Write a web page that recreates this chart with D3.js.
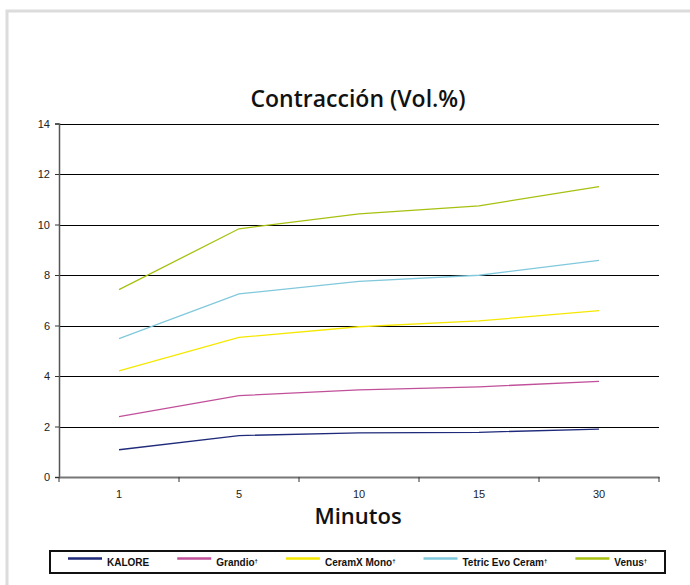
<!DOCTYPE html>
<html>
<head>
<meta charset="utf-8">
<script src="https://cdn.jsdelivr.net/npm/d3@7"></script>
<style>
  body { margin: 0; background: #fff; }
</style>
</head>
<body>
<div id="chart"></div>
<script>
// Chart data
const minutos = ["1", "5", "10", "15", "30"];
const seriesNames = ["KALORE", "Grandio", "CeramX Mono", "Tetric Evo Ceram", "Venus"];
const seriesMarks = ["", "†", "†", "†", "†"];
const seriesColors = ["#1f2a7a", "#c0509a", "#f5e800", "#80c8dc", "#a8c010"];
const kalore = [1.08, 1.64, 1.75, 1.77, 1.9];
const grandio = [2.39, 3.22, 3.45, 3.57, 3.79];
const ceramx = [4.2, 5.53, 5.95, 6.18, 6.59];
const tetric = [5.48, 7.25, 7.75, 7.99, 8.58];
const venus = [7.42, 9.83, 10.42, 10.74, 11.5];
const yTicks = [0, 2, 4, 6, 8, 10, 12, 14];

const seriesValues = [kalore, grandio, ceramx, tetric, venus];

const width = 690, height = 585;
const margin = {top: 123.5, right: 31, bottom: 108, left: 59};

const svg = d3.select("#chart")
  .append("svg")
  .attr("width", width)
  .attr("height", height);

// outer frame
svg.append("path")
  .attr("d", `M7,${height} V11 H${width}`)
  .attr("fill", "none")
  .attr("stroke", "#dcdcdc")
  .attr("stroke-width", 3);

const x = d3.scaleBand()
  .domain(minutos)
  .range([margin.left, width - margin.right]);
const y = d3.scaleLinear()
  .domain([0, 14])
  .range([height - margin.bottom, margin.top]);

// Gridlines
svg.append("g")
  .selectAll("line")
  .data(yTicks.filter(d => d > 0))
  .enter()
  .append("line")
  .attr("x1", margin.left)
  .attr("x2", width - margin.right)
  .attr("y1", d => Math.round(y(d)) + 0.5)
  .attr("y2", d => Math.round(y(d)) + 0.5)
  .attr("stroke", "#000")
  .attr("stroke-width", 1);

// Y axis
const yAxis = svg.append("g")
  .attr("transform", `translate(${margin.left},0)`)
  .call(d3.axisLeft(y).tickValues(yTicks).tickSize(4).tickPadding(5).tickFormat(d3.format("d")));
yAxis.select(".domain").attr("stroke", "#555").attr("stroke-width", 1.5);
yAxis.selectAll(".tick line").attr("stroke", "#333");
yAxis.selectAll("text")
  .attr("font-family", "Liberation Sans, Arial, sans-serif")
  .attr("font-size", "11px")
  .attr("fill", "#222");

// X axis
const xAxis = svg.append("g")
  .attr("transform", `translate(0,${y(0)})`)
  .call(d3.axisBottom(x).tickSize(0).tickPadding(13));
xAxis.select(".domain").attr("stroke", "#777").attr("stroke-width", 2);
xAxis.selectAll("text")
  .attr("font-family", "Liberation Sans, Arial, sans-serif")
  .attr("font-size", "11px")
  .attr("fill", "#222");
// tick marks at category boundaries
xAxis.selectAll(".bound")
  .data(minutos.map(d => x(d)).concat([x(minutos[minutos.length - 1]) + x.bandwidth()]))
  .enter()
  .append("line")
  .attr("class", "bound")
  .attr("x1", d => d)
  .attr("x2", d => d)
  .attr("y1", 0)
  .attr("y2", 5)
  .attr("stroke", "#333");

// Lines
const line = d3.line()
  .x((d, i) => x(minutos[i]) + x.bandwidth() / 2)
  .y(d => y(d));

svg.append("g")
  .selectAll("path")
  .data(seriesValues)
  .enter()
  .append("path")
  .attr("d", d => line(d))
  .attr("fill", "none")
  .attr("stroke", (d, i) => seriesColors[i])
  .attr("stroke-width", 1.3);

// Title
svg.append("text")
  .attr("x", 358)
  .attr("y", 107)
  .attr("text-anchor", "middle")
  .attr("font-family", "Open Sans, sans-serif")
  .attr("font-weight", 600)
  .attr("font-size", "23px")
  .attr("fill", "#111")
  .text("Contracción (Vol.%)");

// X axis label
svg.append("text")
  .attr("x", 358)
  .attr("y", 524)
  .attr("text-anchor", "middle")
  .attr("font-family", "Open Sans, sans-serif")
  .attr("font-weight", 600)
  .attr("font-size", "22px")
  .attr("fill", "#111")
  .text("Minutos");

// Legend
const legend = svg.append("g");
legend.append("rect")
  .attr("x", 50)
  .attr("y", 551)
  .attr("width", 615)
  .attr("height", 22)
  .attr("fill", "none")
  .attr("stroke", "#111")
  .attr("stroke-width", 2);

let lx = 68;
seriesNames.forEach((name, i) => {
  legend.append("line")
    .attr("x1", lx)
    .attr("x2", lx + 34)
    .attr("y1", 558.5)
    .attr("y2", 558.5)
    .attr("stroke", seriesColors[i])
    .attr("stroke-width", 2.5);
  const t = legend.append("text")
    .attr("x", lx + 39)
    .attr("y", 566)
    .attr("font-family", "Liberation Sans, Arial, sans-serif")
    .attr("font-weight", "bold")
    .attr("font-size", "10px")
    .attr("fill", "#111")
    .text(name);
  t.append("tspan")
    .attr("font-size", "6px")
    .attr("dy", -3)
    .text(seriesMarks[i]);
  lx += 39 + t.node().getComputedTextLength() + 28;
});
</script>
</body>
</html>
